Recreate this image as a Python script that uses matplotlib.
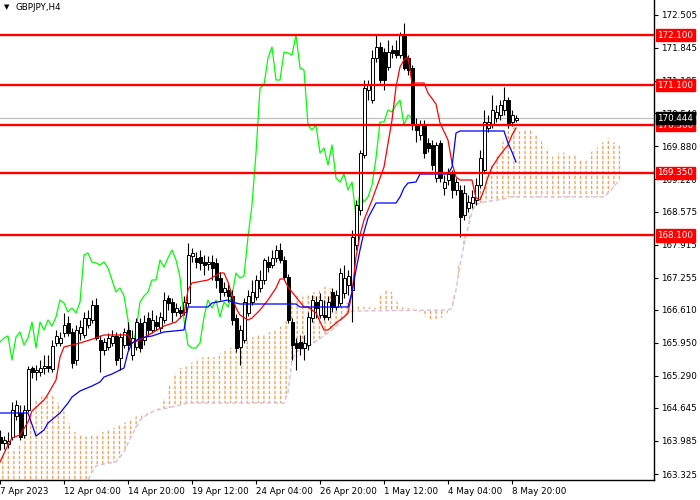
import numpy as np
import matplotlib
matplotlib.use("Agg")
import matplotlib.pyplot as plt
from matplotlib.patches import Polygon
from matplotlib.collections import LineCollection
import matplotlib.transforms as mtransforms

# GBPJPY H4 candles (7 Apr 2023 12:00 .. 9 May 2023 00:00)
opens = [164.065, 163.945, 163.925, 164.065, 164.485, 164.545, 164.105, 164.605, 165.445, 165.365,
         165.365, 165.445, 165.485, 165.425, 165.945, 165.945, 166.145, 166.345, 166.165, 165.605,
         166.145, 166.105, 166.305, 166.405, 166.705, 166.005, 165.805, 165.865, 165.945, 166.085,
         165.645, 165.905, 166.205, 165.705, 165.865, 166.345, 166.005, 166.445, 166.205, 166.365,
         166.245, 166.405, 166.845, 166.765, 166.565, 166.605, 166.565, 166.745, 167.685, 167.645,
         167.665, 167.565, 167.525, 167.565, 167.545, 167.245, 166.965, 167.005, 166.885, 166.445,
         165.865, 166.005, 166.545, 166.765, 166.865, 167.045, 167.205, 167.565, 167.505, 167.645,
         167.805, 167.605, 167.265, 166.365, 165.945, 165.965, 165.845, 165.905, 166.445, 166.765,
         166.505, 166.505, 166.465, 166.965, 166.665, 166.745, 166.945, 167.105, 167.005, 167.905,
         168.605, 169.705, 171.005, 170.805, 171.645, 171.865, 171.765, 171.465, 171.805, 171.805,
         171.705, 172.105, 171.645, 171.445, 170.305, 170.105, 170.305, 169.945, 169.905, 169.245,
         169.945, 169.045, 169.205, 169.345, 169.005, 169.005, 168.505, 168.645, 168.745, 168.805,
         169.105, 169.405, 170.245, 170.305, 170.445, 170.505, 170.605, 170.805, 170.365, 170.405]
highs = [164.205, 164.085, 164.165, 164.765, 164.805, 164.705, 164.705, 165.485, 165.485, 165.505,
         165.605, 165.705, 165.705, 166.005, 166.205, 166.165, 166.545, 166.485, 166.245, 166.305,
         166.405, 166.565, 166.605, 166.805, 166.845, 166.105, 166.045, 166.145, 166.205, 166.165,
         166.145, 166.245, 166.365, 166.205, 166.445, 166.445, 166.505, 166.565, 166.605, 166.505,
         166.565, 166.965, 166.905, 166.845, 166.745, 166.685, 166.885, 167.945, 167.845, 167.765,
         167.805, 167.705, 167.685, 167.705, 167.645, 167.365, 167.165, 167.125, 167.005, 166.525,
         166.305, 166.845, 167.005, 167.205, 167.305, 167.405, 167.645, 167.685, 167.805, 167.905,
         167.945, 167.685, 167.325, 166.445, 166.045, 166.105, 166.105, 166.565, 166.905, 166.885,
         166.945, 166.805, 166.885, 167.045, 167.005, 167.445, 167.505, 167.405, 168.205, 168.805,
         169.805, 171.205, 171.205, 171.805, 172.105, 171.965, 171.845, 172.005, 171.905, 172.005,
         172.165, 172.345, 171.705, 171.505, 170.445, 170.405, 170.405, 170.045, 170.005, 169.965,
         170.005, 169.305, 169.445, 169.405, 169.245, 169.105, 169.105, 168.905, 169.005, 169.245,
         169.805, 170.605, 170.505, 170.905, 170.705, 170.805, 171.065, 170.865, 170.605, 170.505]
lows = [163.805, 163.825, 163.845, 164.005, 164.405, 164.005, 164.045, 164.565, 165.245, 165.205,
        165.285, 165.325, 165.365, 165.365, 165.885, 165.885, 166.065, 166.085, 165.445, 165.505,
        166.005, 166.045, 166.245, 166.345, 166.005, 165.365, 165.705, 165.805, 165.885, 165.505,
        165.405, 165.845, 165.805, 165.605, 165.805, 165.765, 165.905, 166.105, 166.145, 166.205,
        166.165, 166.345, 166.605, 166.365, 166.485, 166.445, 166.505, 166.685, 167.565, 167.445,
        167.405, 167.305, 167.405, 167.205, 167.045, 166.805, 166.885, 166.765, 166.305, 165.765,
        165.505, 165.945, 166.485, 166.705, 166.805, 166.965, 167.125, 167.365, 167.445, 167.565,
        167.545, 167.205, 166.345, 165.605, 165.405, 165.705, 165.605, 165.805, 166.365, 166.445,
        166.445, 166.405, 166.405, 166.565, 166.605, 166.685, 166.845, 166.905, 166.365, 167.805,
        168.505, 169.645, 170.805, 170.745, 171.565, 171.145, 171.005, 171.405, 171.645, 171.645,
        171.645, 171.405, 171.305, 170.205, 169.965, 170.005, 169.645, 169.765, 169.405, 169.165,
        169.165, 168.905, 169.105, 168.845, 168.905, 168.065, 168.405, 168.565, 168.645, 168.705,
        169.045, 169.345, 170.165, 170.245, 170.365, 170.405, 170.505, 170.245, 170.285, 170.365]
closes = [163.945, 164.005, 163.985, 164.605, 164.705, 164.065, 164.605, 165.425, 165.365, 165.405,
          165.445, 165.485, 165.445, 165.885, 166.085, 166.045, 166.305, 166.145, 165.545, 166.205,
          166.265, 166.445, 166.445, 166.705, 166.045, 165.805, 165.965, 166.045, 166.085, 165.605,
          166.065, 166.165, 165.905, 166.045, 166.365, 165.845, 166.365, 166.205, 166.405, 166.285,
          166.465, 166.805, 166.745, 166.565, 166.645, 166.545, 166.765, 167.705, 167.745, 167.565,
          167.545, 167.505, 167.565, 167.445, 167.205, 166.965, 167.045, 166.885, 166.405, 165.845,
          166.205, 166.765, 166.885, 166.965, 167.205, 167.205, 167.605, 167.465, 167.645, 167.805,
          167.605, 167.265, 166.405, 165.905, 165.845, 165.845, 165.945, 166.465, 166.805, 166.645,
          166.805, 166.465, 166.765, 166.665, 166.905, 167.345, 167.245, 167.285, 168.065, 168.705,
          169.745, 171.045, 171.105, 171.645, 171.865, 171.205, 171.205, 171.765, 171.745, 171.705,
          172.105, 171.445, 171.405, 170.305, 170.205, 170.305, 169.745, 169.845, 169.505, 169.905,
          169.245, 169.165, 169.325, 169.005, 169.165, 168.465, 168.945, 168.765, 168.865, 169.105,
          169.645, 170.365, 170.365, 170.605, 170.565, 170.705, 170.805, 170.305, 170.505, 170.444]

# Ichimoku lines (bar index, price)
tenkan_bars = [0, 2, 3, 5, 7, 8, 11, 12, 14, 15, 16, 20, 24, 26, 32, 33, 35, 38, 41, 44, 46, 47, 48,
               52, 55, 56, 57, 58, 59, 60, 62, 63, 65, 67, 69, 70, 71, 72, 74, 76, 77, 79, 81, 82,
               84, 86, 87, 88, 89, 90, 91, 93, 96, 98, 99, 100, 101, 102, 103, 106, 107, 109, 110,
               112, 113, 114, 115, 118, 119, 120, 121, 122, 123, 125, 127, 128, 129]
tenkan_vals = [163.565, 163.905, 164.045, 164.105, 164.365, 164.585, 164.805, 164.925, 165.205,
               165.665, 165.865, 165.945, 166.045, 166.105, 166.105, 165.945, 166.005, 166.145,
               166.285, 166.365, 166.525, 167.005, 167.145, 167.205, 167.345, 167.345, 167.165,
               166.905, 166.645, 166.505, 166.405, 166.445, 166.605, 166.805, 167.045, 167.225,
               167.225, 167.065, 166.865, 166.665, 166.665, 166.545, 166.205, 166.205, 166.345,
               166.465, 166.545, 166.945, 167.665, 168.105, 168.405, 168.805, 169.465, 170.405,
               171.065, 171.465, 171.605, 171.665, 171.145, 171.145, 170.945, 170.725, 170.345,
               170.005, 169.545, 169.265, 169.205, 169.205, 168.845, 168.805, 169.005, 169.265,
               169.465, 169.705, 169.905, 170.105, 170.245]

kijun_bars = [0, 7, 9, 11, 12, 15, 17, 18, 20, 23, 25, 26, 28, 31, 32, 33, 35, 38, 41, 46, 47, 52,
              53, 57, 58, 60, 74, 75, 87, 88, 89, 90, 91, 92, 94, 99, 100, 101, 102, 104, 105, 112,
              113, 114, 115, 126, 127, 128, 129]
kijun_vals = [164.545, 164.545, 164.085, 164.205, 164.345, 164.545, 164.745, 164.865, 164.985,
              165.085, 165.165, 165.265, 165.325, 165.445, 165.765, 165.945, 166.045, 166.085,
              166.165, 166.205, 166.665, 166.665, 166.745, 166.805, 166.765, 166.725, 166.725,
              166.665, 166.665, 166.965, 167.405, 167.805, 168.165, 168.445, 168.745, 168.745,
              168.865, 169.045, 169.145, 169.165, 169.325, 169.325, 169.465, 170.145, 170.185,
              170.185, 169.945, 169.765, 169.565]

span_a_bars = [0, 3, 5, 6, 7, 8, 9, 11, 13, 14, 15, 16, 17, 18, 20, 22, 25, 27, 29, 31, 33, 35, 37,
               39, 40, 41, 42, 43, 45, 47, 49, 51, 54, 55, 58, 62, 66, 69, 71, 72, 73, 74, 76, 78,
               80, 82, 83, 84, 85, 87, 88, 94, 95, 96, 98, 99, 100, 104, 105, 107, 110, 112, 113,
               114, 115, 116, 117, 118, 119, 121, 122, 124, 125, 126, 127, 129, 130, 131, 132, 133,
               135, 136, 137, 138, 139, 140, 141, 142, 144, 145, 146, 147, 148, 149, 150, 151, 152,
               153, 154, 155]
span_a_vals = [163.705, 163.805, 163.905, 164.065, 164.305, 164.645, 164.805, 164.905, 164.905,
               164.805, 164.705, 164.605, 164.405, 164.205, 164.105, 164.065, 164.145, 164.205,
               164.265, 164.345, 164.445, 164.505, 164.545, 164.605, 164.665, 164.805, 165.005,
               165.245, 165.445, 165.485, 165.625, 165.665, 165.665, 165.745, 165.865, 166.045,
               166.125, 166.205, 166.325, 166.445, 166.805, 166.905, 166.865, 166.945, 167.005,
               167.105, 167.005, 166.905, 166.805, 166.745, 166.685, 166.645, 166.885, 167.005,
               166.965, 166.805, 166.665, 166.625, 166.565, 166.425, 166.425, 166.565, 166.705,
               167.205, 167.645, 168.065, 168.405, 168.645, 168.845, 169.145, 169.365, 169.645,
               169.805, 170.045, 170.245, 170.265, 170.165, 170.205, 170.225, 170.185, 170.045,
               169.885, 169.805, 169.685, 169.565, 169.845, 169.745, 169.705, 169.705, 169.605,
               169.545, 169.645, 169.785, 169.805, 169.945, 169.965, 170.045, 169.965, 169.945,
               169.925]

span_b_bars = [0, 21, 22, 23, 24, 26, 29, 31, 32, 33, 35, 37, 39, 42, 44, 47, 71, 72, 73, 74, 77,
               79, 82, 84, 86, 88, 112, 113, 114, 115, 116, 117, 118, 119, 121, 126, 127, 151, 152,
               153, 154, 155]
span_b_vals = [162.905, 162.965, 163.205, 163.365, 163.485, 163.525, 163.565, 163.765, 163.945,
               164.105, 164.405, 164.525, 164.605, 164.645, 164.685, 164.745, 164.745, 164.965,
               165.605, 165.765, 165.865, 165.985, 166.145, 166.265, 166.485, 166.585, 166.605,
               166.645, 167.005, 167.505, 167.905, 168.245, 168.565, 168.725, 168.765, 168.825,
               168.865, 168.865, 168.945, 169.025, 169.125, 169.205]

chikou_shift = 26
levels = [172.100, 171.100, 170.300, 169.350, 168.100]
last_price = 170.444

price_ticks = [172.505, 171.845, 171.185, 170.540, 169.880, 169.220, 168.575, 167.915,
               167.255, 166.610, 165.950, 165.290, 164.645, 163.985, 163.325]
time_ticks = [0, 16, 32, 48, 64, 80, 96, 112, 128]
time_labels = ['7 Apr 2023', '12 Apr 04:00', '14 Apr 20:00', '19 Apr 12:00', '24 Apr 04:00',
               '26 Apr 20:00', '1 May 12:00', '4 May 04:00', '8 May 20:00']

plt.rcParams['font.family'] = ['DejaVu Sans']
plt.rcParams['hatch.linewidth'] = 1.0
fs = 6.3

fig = plt.figure(figsize=(7, 5), dpi=100)
ax = fig.add_axes([0, 0.04, 654 / 700, 0.96])
ax.set_xlim(0, 163.5)
ax.set_ylim(163.205, 172.805)

# cloud: vertical dotted hatch between span A and span B
poly_xy = list(zip(span_a_bars, span_a_vals)) + list(zip(span_b_bars, span_b_vals))[::-1]
cloud = Polygon(poly_xy, closed=True, facecolor='none', edgecolor='#F4A460',
                hatch='|||', linewidth=0, zorder=1)
ax.add_patch(cloud)
stripes = [[(-5, yv), (170, yv)] for yv in np.arange(162.0, 173.0, 0.1)]
lc = LineCollection(stripes, colors='white', linewidths=1.2, zorder=1.2)
ax.add_collection(lc)
lc.set_clip_path(cloud)
ax.plot(span_b_bars, span_b_vals, color='#D8BFD8', lw=1.0, ls=(0, (3, 2)), zorder=1.5)

# current price line
ax.axhline(last_price, color='#C0C0C0', lw=0.9, zorder=2)

# chikou
closes_arr = np.array(closes)
ax.plot(np.arange(len(closes) - chikou_shift), closes_arr[chikou_shift:],
        color='#00FF00', lw=0.9, zorder=2.5)

# candles
idx = np.arange(len(opens))
o = np.array(opens); h = np.array(highs); l = np.array(lows); c = closes_arr
ax.vlines(idx, l, h, color='black', lw=0.8, zorder=3)
body_low = np.minimum(o, c)
body_h = np.maximum(np.abs(c - o), 0.02)
colors = ['white' if cc >= oo else 'black' for oo, cc in zip(o, c)]
ax.bar(idx, body_h, bottom=body_low, width=0.75, color=colors, edgecolor='black',
       linewidth=0.7, zorder=4)

# tenkan / kijun
ax.plot(tenkan_bars, tenkan_vals, color='#FF0000', lw=0.9, zorder=5)
ax.plot(kijun_bars, kijun_vals, color='#0000FF', lw=0.9, zorder=5)

# levels
for lv in levels:
    ax.axhline(lv, color='#FF0000', lw=1.7, zorder=6)

# axes styling
for side in ['top', 'left']:
    ax.spines[side].set_visible(False)
ax.spines['right'].set_linewidth(1.0)
ax.spines['bottom'].set_linewidth(1.0)
ax.yaxis.tick_right()
ax.set_yticks(price_ticks)
ax.set_yticklabels([f'{t:.3f}' for t in price_ticks], fontsize=fs)
ax.tick_params(axis='y', direction='out', length=3, width=0.8, pad=2)
ax.set_xticks(time_ticks)
ax.set_xticklabels(time_labels, fontsize=fs)
for t in ax.get_xticklabels():
    t.set_ha('left')
ax.tick_params(axis='x', direction='out', length=3, width=0.8, pad=2)

trans = mtransforms.blended_transform_factory(ax.transAxes, ax.transData)
for lv in levels:
    ax.text(1.005, lv, f'{lv:.3f}', transform=trans, fontsize=fs, color='white',
            va='center', ha='left', zorder=10, clip_on=False,
            bbox=dict(boxstyle='square,pad=0.2', fc='#FF0000', ec='#FF0000'))
ax.text(1.005, last_price, f'{last_price:.3f}', transform=trans, fontsize=fs, color='white',
        va='center', ha='left', zorder=11, clip_on=False,
        bbox=dict(boxstyle='square,pad=0.2', fc='black', ec='black'))

fig.text(0.006, 0.992, '\u25bc', fontsize=5, va='top', ha='left')
fig.text(0.022, 0.993, 'GBPJPY,H4', fontsize=fs, va='top', ha='left')

fig.savefig('out.png', dpi=100)
